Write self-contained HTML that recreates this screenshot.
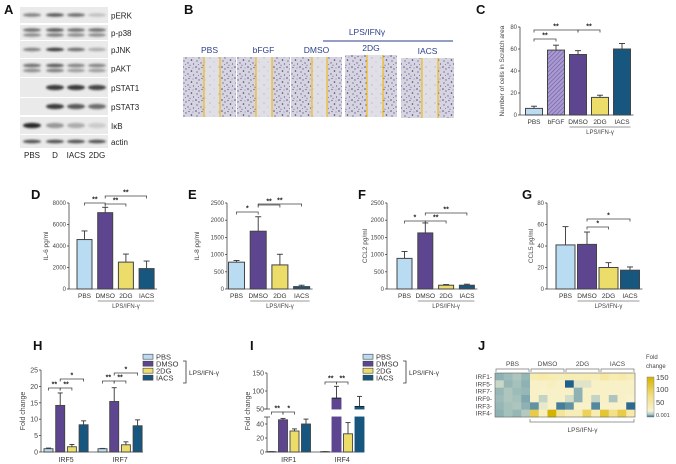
<!DOCTYPE html>
<html><head><meta charset="utf-8"><style>
body{margin:0;background:#fff}
svg{display:block;font-family:"Liberation Sans",Arial,sans-serif}
</style></head><body>
<svg id="fig" width="676" height="464" viewBox="0 0 676 464" xmlns="http://www.w3.org/2000/svg">
<defs>
<filter id="blur" x="-20%" y="-100%" width="140%" height="300%"><feGaussianBlur stdDeviation="1.1"/></filter>
<pattern id="cells" width="13" height="11" patternUnits="userSpaceOnUse">
<rect width="13" height="11" fill="#d6d4df"/>
<circle cx="1" cy="1" r="0.8" fill="#5a4b96"/><circle cx="4" cy="3" r="0.7" fill="#6e60a6"/><circle cx="2" cy="6" r="0.6" fill="#4e3f8a"/>
<circle cx="7" cy="1.5" r="0.6" fill="#5a4b96"/><circle cx="9.5" cy="5" r="0.8" fill="#4a3b86"/><circle cx="6" cy="8" r="0.7" fill="#6e60a6"/>
<circle cx="11.5" cy="9" r="0.6" fill="#5a4b96"/><circle cx="3.5" cy="9.5" r="0.5" fill="#7466a8"/><circle cx="11" cy="2" r="0.5" fill="#7466a8"/><circle cx="8" cy="10.2" r="0.5" fill="#4e3f8a"/>
</pattern>
<pattern id="gap" width="9" height="9" patternUnits="userSpaceOnUse">
<rect width="9" height="9" fill="#e0dfe6"/><circle cx="3" cy="4" r="0.5" fill="#8a80b8"/><circle cx="7" cy="8" r="0.4" fill="#9a90c0"/>
</pattern>
<pattern id="hatch" width="3" height="3" patternUnits="userSpaceOnUse" patternTransform="rotate(45)">
<rect width="3" height="3" fill="#a99bd0"/><line x1="0" y1="0" x2="0" y2="3" stroke="#6d5aa6" stroke-width="1.2"/>
</pattern>
<linearGradient id="cbar" x1="0" y1="1" x2="0" y2="0">
<stop offset="0" stop-color="#1f5f8e"/><stop offset="0.06" stop-color="#a9c7c8"/><stop offset="0.15" stop-color="#f8f3d0"/><stop offset="0.55" stop-color="#f0dd80"/><stop offset="1" stop-color="#d4b300"/>
</linearGradient>
</defs>
<g id="root"></g>
</svg>
<script>
// ---------- data ----------
const blotRows = ["pERK","p-p38","pJNK","pAKT","pSTAT1","pSTAT3","IκB","actin"];
const blotLanes = ["PBS","D","IACS","2DG"];
const blotIntensity = [[0.5,0.7,0.6,0.2],[0.6,0.7,0.6,0.6],[0.5,0.85,0.6,0.3],[0.6,0.7,0.5,0.5],[0,0.85,0.85,0.8],[0,0.85,0.7,0.6],[0.95,0.4,0.3,0.15],[0.75,0.75,0.75,0.75]];

const cCats = ["PBS","bFGF","DMSO","2DG","IACS"];
const cVals = [6,59,55,16,60];
const cErrs = [8,63.5,58.5,18,65];
const cTicks = [0,20,40,60,80];

const cats4 = ["PBS","DMSO","2DG","IACS"];
const dVals = [4600,7100,2500,1900];
const dErrs = [5400,7600,3250,2600];
const dTicks = [0,2000,4000,6000,8000];
const eVals = [780,1680,700,70];
const eErrs = [830,2100,1010,110];
const eTicks = [0,500,1000,1500,2000,2500];
const fVals = [890,1630,110,110];
const fErrs = [1090,1920,130,140];
const fTicks = [0,500,1000,1500,2000,2500];
const gVals = [41,41.5,20,17.5];
const gErrs = [58,53,24.5,20.5];
const gTicks = [0,20,40,60,80];

const hGroups = ["IRF5","IRF7"];
const hVals = [[1.0,14.2,1.6,8.3],[1.0,15.4,2.2,8.0]];
const hErrs = [[1.2,18,2.3,9.5],[1.1,19.6,3.1,9.8]];
const hTicks = [0,5,10,15,20,25];

const iGroups = ["IRF1","IRF4"];
const iVals = [[0.5,46,30,40],[0.5,80,26,57]];
const iErrs = [[0.6,48,33,47],[0.6,113,42,85]];
const iTicksLow = [0,20,40];
const iTicksHigh = [50,100,150];

const jRows = ["IRF1","IRF5","IRF7","IRF9","IRF3","IRF4"];
const jGroups = ["PBS","DMSO","2DG","IACS"];
const jVals = [
 [8,10,12,9, 45,50,45,40, 45,40,45,40, 55,45,50,40],
 [16,9,11,8, 30,30,35,30, 0.001,20,20,30, 30,30,30,30],
 [9,12,10,9, 30,28,30,30, 30,8,30,30, 30,30,30,30],
 [10,12,11,7, 30,15,30,30, 18,8,30,15, 30,12,30,25],
 [9,11,12,8, 5,22,28,3, 5,28,28,4, 28,28,28,1],
 [8,11,9,13, 110,35,150,60, 40,40,100,45, 120,70,110,50]];

const COL = ["#b9dcf2","#5d4590","#ecdc6a","#17577f"];

// ---------- helpers ----------
const NS="http://www.w3.org/2000/svg";
const root=document.getElementById('root');
function mk(tag,attrs,parent,txt){const e=document.createElementNS(NS,tag);for(const k in attrs)e.setAttribute(k,attrs[k]);if(txt!==undefined)e.textContent=txt;(parent||root).appendChild(e);return e;}
function txt(x,y,s,size,anchor,parent,extra){const e=mk('text',Object.assign({x:x,y:y,'font-size':size,'text-anchor':anchor||'start',fill:'#333'},extra||{}),parent,s);return e;}
function letter(x,y,s){const e=txt(x,y,s,13,'start',root,{'font-weight':'bold',fill:'#111'});

}
function line(x1,y1,x2,y2,parent,col,w){return mk('line',{x1:x1,y1:y1,x2:x2,y2:y2,stroke:col||'#444','stroke-width':w||0.8},parent);}
function bracket(x1,x2,y,label,parent){const g=mk('g',{},parent);


mk('path',{d:`M${x1} ${y+2.5}V${y}H${x2}V${y+2.5}`,fill:'none',stroke:'#444','stroke-width':0.8},g);
txt((x1+x2)/2,y-1.5,label,7,'middle',g,{'font-weight':'bold',fill:'#222'});}

// ---------- Panel A ----------
letter(4,14,'A');
const gA=mk('g',{});


const rowY=[[7,23],[25,40],[41,58],[59,77],[78,97],[98,115],[117,134],[135,148]];
const laneC=[32,55,76,97];
blotRows.forEach((r,ri)=>{
 const [y0,y1]=rowY[ri];
 mk('rect',{x:20,y:y0,width:88,height:y1-y0,fill:'#eaeaea'},gA);
 const cy=(y0+y1)/2;
 const ys = (ri===1||ri===3)?[cy-2.5,cy+2.5]:[cy];
 blotIntensity[ri].forEach((v,li)=>{
   if(v<=0) return;
   ys.forEach((yy,k)=>{
     const op = k===1? v*0.75 : v;
     const b=mk('ellipse',{cx:laneC[li],cy:yy,rx:9,ry:ri===6||ri===4||ri===5?2.6:1.8,fill:'#1a1a1a',opacity:op,filter:'url(#blur)'},gA);
     
     
   });
 });
 const t=txt(111,cy+3.5,r,8,'start',gA,{fill:'#222'});
 
 
});
blotLanes.forEach((l,i)=>{const t=txt(laneC[i],158,l,8,'middle',gA,{fill:'#222'});
 
 });

// ---------- Panel B ----------
letter(184,14,'B');
const gB=mk('g',{});


const bImgs=[["PBS",183,236,57,117,204,220],["bFGF",237,290,57,117,256,272],["DMSO",291,342,57,117,312,327],["2DG",345,397,55,117,367,383],["IACS",401,454,58,118,422,438]];
bImgs.forEach(b=>{
 const [lab,x0,x1,y0,y1,l1,l2]=b;
 const g=mk('g',{},gB);
 
 
 mk('rect',{x:x0,y:y0,width:x1-x0,height:y1-y0,fill:'url(#cells)'},g);
 mk('rect',{x:l1,y:y0,width:l2-l1,height:y1-y0,fill:'url(#gap)'},g);
 line(l1,y0,l1,y1,g,'#f2b705',1.1);line(l2,y0,l2,y1,g,'#f2b705',1.1);
 txt((x0+x1)/2,y0-4,lab,8.5,'middle',g,{fill:'#2b3f8c'});
});
line(323,41,453,41,gB,'#2b3f8c',1);
txt(367,35,'LPS/IFNγ',8.5,'middle',gB,{fill:'#2b3f8c'});

// ---------- generic bar chart ----------
function barChart(o){
 const g=mk('g',{});
 
 
 const ys=v=>o.y0-(v/o.max)*(o.y0-o.y1);
 line(o.ax,o.y0,o.ax,o.y1,g);
 o.ticks.forEach(t=>{line(o.ax-2,ys(t),o.ax,ys(t),g);
   const tl=txt(o.ax-3,ys(t)+2,String(t),6,'end',g,{fill:'#444'});
   
   });
 const xEnd=o.c0+o.step*(o.vals.length-1)+o.w/2+3;
 line(o.ax,o.y0,xEnd,o.y0,g);
 o.vals.forEach((v,i)=>{
  const cx=o.c0+o.step*i, yv=ys(v), ye=ys(o.errs[i]);
  line(cx,ye,cx,yv,g,'#333',0.9);line(cx-3,ye,cx+3,ye,g,'#333',0.9);
  const r=mk('rect',{x:cx-o.w/2,y:yv,width:o.w,height:o.y0-yv,fill:o.fills[i],stroke:'#444','stroke-width':1},g);
  
  
  const cl=txt(cx,o.y0+9,o.cats[i],6.5,'middle',g,{fill:'#333'});
  
  
 });
 const yt=txt(0,0,o.title,6.5,'middle',g,{fill:'#444',transform:`translate(${o.titleX},${(o.y0+o.y1)/2}) rotate(-90)`});
 
 
 const i1=o.lps[0],i2=o.lps[1];
 const lx1=o.c0+o.step*i1-o.w/2, lx2=o.c0+o.step*i2+o.w/2;
 line(lx1,o.y0+12,lx2,o.y0+12,g,'#777',0.8);
 txt((lx1+lx2)/2,o.y0+19,'LPS/IFN-γ',6,'middle',g,{fill:'#444'});
 (o.brackets||[]).forEach(b=>bracket(o.c0+o.step*b[0],o.c0+o.step*b[1],b[2],b[3],g));
 return g;
}

// ---------- Panel C ----------
letter(476,14,'C');
barChart({name:'chart-c',ax:520,y0:115,y1:27,max:80,ticks:cTicks,c0:534,step:22,w:17,vals:cVals,errs:cErrs,
 fills:[COL[0],'url(#hatch)',COL[1],COL[2],COL[3]],cats:cCats,title:'Number of cells in Scratch area',titleX:504,lps:[2,4],
 brackets:[[0,2,30,'**'],[0,1,39,'**'],[2,3,30,'**']]});

// ---------- Panels D-G ----------
letter(31,199,'D');
barChart({name:'chart-d-il6',ax:69,y0:289,y1:203,max:8000,ticks:dTicks,c0:84.5,step:20.7,w:15,vals:dVals,errs:dErrs,
 fills:COL,cats:cats4,title:'IL-6 pg/ml',titleX:48,lps:[1,3],
 brackets:[[0,1,203,'**'],[1,2,204,'**'],[1,3,196,'**']]});
letter(188,199,'E');
barChart({name:'chart-e-il8',ax:227,y0:289,y1:203,max:2500,ticks:eTicks,c0:236.5,step:21.7,w:16,vals:eVals,errs:eErrs,
 fills:COL,cats:cats4,title:'IL-8 pg/ml',titleX:199,lps:[1,3],
 brackets:[[0,1,212,'*'],[1,2,205,'**'],[1,3,204,'**']]});
letter(358,199,'F');
barChart({name:'chart-f-ccl2',ax:387,y0:289,y1:203,max:2500,ticks:fTicks,c0:404.5,step:20.8,w:15,vals:fVals,errs:fErrs,
 fills:COL,cats:cats4,title:'CCL2 pg/ml',titleX:367,lps:[1,3],
 brackets:[[0,1,221,'*'],[1,2,221,'**'],[1,3,213,'**']]});
letter(522,199,'G');
barChart({name:'chart-g-ccl5',ax:547,y0:289,y1:203,max:80,ticks:gTicks,c0:565.5,step:21.5,w:19,vals:gVals,errs:gErrs,
 fills:COL,cats:cats4,title:'CCL5 pg/ml',titleX:533,lps:[1,3],
 brackets:[[1,2,227,'*'],[1,3,219,'*']]});

// ---------- legend helper ----------
function legend(x,name){
 const g=mk('g',{});
 
 
 const ly=[357,364,371,378];
 cats4.forEach((c,i)=>{
  mk('rect',{x:x,y:ly[i]-2.8,width:10,height:5,fill:COL[i],stroke:'#444','stroke-width':0.6},g);
  txt(x+13,ly[i]+2.5,c,7.5,'start',g,{fill:'#333'});
 });
 mk('path',{d:`M${x+40} 361H${x+43}V383H${x+40}`,fill:'none',stroke:'#333','stroke-width':0.8},g);
 txt(x+46,375,'LPS/IFN-γ',6.5,'start',g,{fill:'#333'});
}

// ---------- Panel H ----------
letter(33,350,'H');
(function(){
 const g=mk('g',{});
 
 
 const ax=41,y0=452,y1=370,max=25;
 const ys=v=>y0-v/max*(y0-y1);
 line(ax,y0,ax,y1,g);line(ax,y0,143,y0,g);
 hTicks.forEach(t=>{line(ax-2,ys(t),ax,ys(t),g);txt(ax-3,ys(t)+2.5,String(t),7,'end',g,{fill:'#444'});});
 const gs=[48.5,102.5],st=11.7,w=9;
 hGroups.forEach((gn,gi)=>{
  hVals[gi].forEach((v,i)=>{
   const cx=gs[gi]+st*i;
   line(cx,ys(hErrs[gi][i]),cx,ys(v),g,'#333',0.9);line(cx-2.5,ys(hErrs[gi][i]),cx+2.5,ys(hErrs[gi][i]),g,'#333',0.9);
   const r=mk('rect',{x:cx-w/2,y:ys(v),width:w,height:y0-ys(v),fill:COL[i],stroke:'#444','stroke-width':0.9},g);
   
   
  });
  txt(gs[gi]+st*1.5,462,gn,7,'middle',g,{fill:'#333'});
  bracket(gs[gi],gs[gi]+st,gi?381:388,'**',g);
  bracket(gs[gi]+st,gs[gi]+st*2,gi?381:388,'**',g);
  bracket(gs[gi]+st,gs[gi]+st*3,gi?373:379,'*',g);
 });
 txt(0,0,'Fold change',7,'middle',g,{fill:'#444',transform:`translate(25,411) rotate(-90)`});
})();
legend(143,'legend-h');

// ---------- Panel I (broken axis) ----------
letter(250,350,'I');
(function(){
 const g=mk('g',{});
 
 
 const ax=267,y0=452;
 const yl=v=>y0-v*0.7;
 const yh=v=>409-(v-50)*0.36;
 const ys=v=>v<=50?yl(v):yh(v);
 line(ax,y0,ax,yl(50),g);line(ax,yh(50),ax,yh(150),g);
 line(ax-3,yl(50),ax+3,yl(50),g);line(ax-3,yh(50),ax+3,yh(50),g);
 line(ax,y0,363,y0,g);
 iTicksLow.forEach(t=>{line(ax-2,yl(t),ax,yl(t),g);txt(ax-3,yl(t)+2.5,String(t),7,'end',g,{fill:'#444'});});
 iTicksHigh.forEach(t=>{line(ax-2,yh(t),ax,yh(t),g);txt(ax-3,yh(t)+2.5,String(t),7,'end',g,{fill:'#444'});});
 const gs=[271.5,325],st=11.5,w=9;
 iGroups.forEach((gn,gi)=>{
  iVals[gi].forEach((v,i)=>{
   const cx=gs[gi]+st*i,e=iErrs[gi][i];
   line(cx,ys(e),cx,ys(v),g,'#333',0.9);line(cx-2.5,ys(e),cx+2.5,ys(e),g,'#333',0.9);
   if(v<=50){
    const r=mk('rect',{x:cx-w/2,y:yl(v),width:w,height:y0-yl(v),fill:COL[i],stroke:'#444','stroke-width':0.9},g);
    
    
   } else {
    const r=mk('rect',{x:cx-w/2,y:yl(50),width:w,height:y0-yl(50),fill:COL[i],stroke:COL[i],'stroke-width':0.9},g);
    
    
    const r2=mk('rect',{x:cx-w/2,y:yh(v),width:w,height:yh(50)-yh(v),fill:COL[i],stroke:COL[i],'stroke-width':0.9},g);
    
    
    line(cx-w/2,yh(v),cx+w/2,yh(v),g,'#222',1);
   }
  });
  txt(gs[gi]+st*1.5,462,gn,7,'middle',g,{fill:'#333'});
 });
 bracket(gs[0],gs[0]+st,412,'**',g);bracket(gs[0]+st,gs[0]+st*2,412,'*',g);
 bracket(gs[1],gs[1]+st,382,'**',g);bracket(gs[1]+st,gs[1]+st*2,382,'**',g);
 txt(0,0,'Fold change',7,'middle',g,{fill:'#444',transform:`translate(250,411) rotate(-90)`});
})();
legend(363,'legend-i');

// ---------- Panel J heatmap ----------
letter(478,350,'J');
(function(){
 const g=mk('g',{});
 
 
 const stops=[[0,[31,95,142]],[3,[70,125,155]],[8,[142,178,180]],[15,[196,212,196]],[25,[248,242,206]],[50,[247,234,170]],[100,[235,210,90]],[150,[212,179,0]]];
 function colr(v){
  for(let k=1;k<stops.length;k++){if(v<=stops[k][0]){const a=stops[k-1],b=stops[k];const t=(v-a[0])/(b[0]-a[0]);
   return 'rgb('+a[1].map((c,j)=>Math.round(c+(b[1][j]-c)*t)).join(',')+')';}}
  return 'rgb(212,179,0)';}
 const x0=495,x1=635,y0=373,y1=417;
 const cw=(x1-x0)/jVals[0].length, ch=(y1-y0)/jRows.length;
 jVals.forEach((row,ri)=>{
  row.forEach((v,ci)=>{
   const r=mk('rect',{x:x0+ci*cw,y:y0+ri*ch,width:cw+0.3,height:ch+0.3,fill:colr(v)},g);
   
   
  });
  txt(x0-3,y0+ri*ch+ch/2+2.3,jRows[ri]+'-',6.5,'end',g,{fill:'#444'});
 });
 mk('rect',{x:x0,y:y0,width:x1-x0,height:y1-y0,fill:'none',stroke:'#666','stroke-width':0.6},g);
 jGroups.forEach((gn,gi)=>{
  const a=x0+gi*4*cw+1,b=x0+(gi+1)*4*cw-1;
  mk('path',{d:`M${a} 372V369H${b}V372`,fill:'none',stroke:'#777','stroke-width':0.7},g);
  txt((a+b)/2,366,gn,6.5,'middle',g,{fill:'#444'});
 });
 mk('path',{d:`M${x0+4*cw} 419V422H${x1-1}V419`,fill:'none',stroke:'#777','stroke-width':0.7},g);
 txt((x0+4*cw+x1)/2,432,'LPS/IFN-γ',6.5,'middle',g,{fill:'#444'});
 const cb=mk('rect',{x:647,y:377,width:7,height:40,fill:'url(#cbar)',stroke:'#888','stroke-width':0.5},g);
 
 
 txt(646,359,'Fold',6,'start',g,{fill:'#444'});
 txt(646,368,'change',6,'start',g,{fill:'#444'});
 [['150',380],['100',392],['50',405],['0.001',417]].forEach(t=>txt(656,t[1],t[0],t[0]==='0.001'?5.5:7.5,'start',g,{fill:'#444'}));
})();
</script>
</body></html>
